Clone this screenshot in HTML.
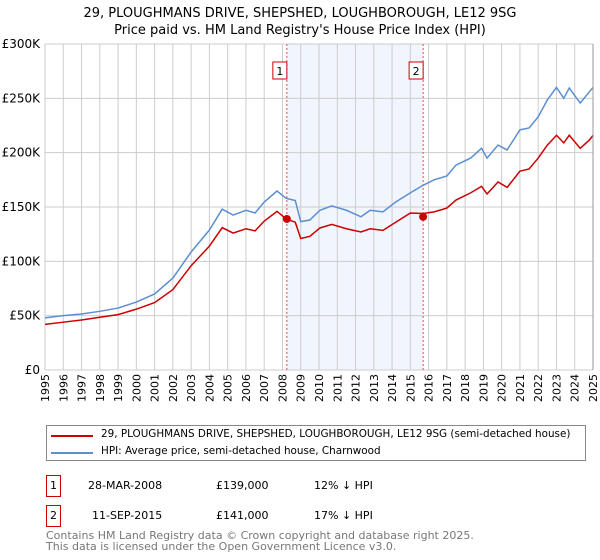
<!DOCTYPE html>
<html><head><meta charset="utf-8"><style>
body{margin:0;background:#fff;font-family:"DejaVu Sans","Liberation Sans",sans-serif;}
#wrap{position:relative;width:600px;height:560px;overflow:hidden;}
.t{position:absolute;font-size:12px;color:#000;white-space:nowrap;}
</style></head><body>
<div id="wrap">
<svg id="chart" width="600" height="420" style="position:absolute;left:0;top:0">
<text x="300" y="17" text-anchor="middle" font-size="13">29, PLOUGHMANS DRIVE, SHEPSHED, LOUGHBOROUGH, LE12 9SG</text>
<text x="300" y="34" text-anchor="middle" font-size="13">Price paid vs. HM Land Registry's House Price Index (HPI)</text>
<g id="grid"></g><g id="marks"></g>
</svg>
<div style="position:absolute;left:46px;top:425px;width:540px;height:36px;border:1px solid #888;box-sizing:border-box;">
<div style="position:absolute;left:4px;top:9px;width:42px;height:2px;background:#cc0000"></div>
<div class="t" style="left:54px;top:2px;font-size:10.4px">29, PLOUGHMANS DRIVE, SHEPSHED, LOUGHBOROUGH, LE12 9SG (semi-detached house)</div>
<div style="position:absolute;left:4px;top:26px;width:42px;height:2px;background:#5b8fd1"></div>
<div class="t" style="left:54px;top:19px;font-size:10.4px">HPI: Average price, semi-detached house, Charnwood</div>
</div>
<div>
<div class="t" style="left:46px;top:475px;width:13px;height:20px;border:1px solid #c00;text-align:center;line-height:20px;font-size:11px">1</div>
<div class="t" style="left:88px;top:479px;font-size:11px">28-MAR-2008</div>
<div class="t" style="left:216px;top:479px;font-size:11px">£139,000</div>
<div class="t" style="left:314px;top:479px;font-size:11px">12% ↓ HPI</div>
</div>
<div>
<div class="t" style="left:46px;top:505px;width:13px;height:20px;border:1px solid #c00;text-align:center;line-height:20px;font-size:11px">2</div>
<div class="t" style="left:92px;top:509px;font-size:11px">11-SEP-2015</div>
<div class="t" style="left:216px;top:509px;font-size:11px">£141,000</div>
<div class="t" style="left:314px;top:509px;font-size:11px">17% ↓ HPI</div>
</div>
<div class="t" style="left:46px;top:530px;font-size:11px;color:#777;line-height:11px">Contains HM Land Registry data © Crown copyright and database right 2025.<br>This data is licensed under the Open Government Licence v3.0.</div>
</div>
<script>
const years=[1995,1996,1997,1998,1999,2000,2001,2002,2003,2004,2005,2006,2007,2008,2009,2010,2011,2012,2013,2014,2015,2016,2017,2018,2019,2020,2021,2022,2023,2024,2025];
const yTicks=[0,50,100,150,200,250,300];
const hpiT=[1995,1996,1997,1998,1999,2000,2001,2002,2003,2004,2004.7,2005.3,2006,2006.5,2007,2007.7,2008.2,2008.7,2009.0,2009.5,2010.05,2010.7,2011.5,2012.3,2012.8,2013.5,2014.2,2015,2015.7,2016.3,2017,2017.5,2018.3,2018.9,2019.2,2019.8,2020.3,2021,2021.5,2022,2022.5,2023,2023.4,2023.7,2024.3,2024.8,2025];
const hpiV=[48,50,51.5,54,57,62.5,70,84.6,108.6,128.8,148,142.6,147,144.5,154.6,164.7,158,156,136.5,138,147,151,147,141,147,145.5,154.6,163,170,175,178.5,188.6,195,204,195,207,202.5,221,222.7,233,248.5,260,250,259.5,245.7,256,260];
const priceV=[42,44,46,48.5,51,56,62,74,96,114,131,126,130,128,137,146,139,136,121,123,130.7,134,130,127,130,128.5,136,144.5,144,145.5,149,156.4,163,169,162,173,168,183,185,195,207,216,209,216,204,211.6,216];
const saleT=[2008.24,2015.7];
const saleV=[139,141];
const saleLabels=["1","2"];
const X=t=>45+(t-1995)*(593-45)/30, Y=v=>370-v*326/300;
const NS="http://www.w3.org/2000/svg";
const grid=document.getElementById('grid'), marks=document.getElementById('marks');
function mk(p,tag,a){const e=document.createElementNS(NS,tag);for(const k in a)e.setAttribute(k,a[k]);p.appendChild(e);return e;}
const shade=mk(grid,'rect',{x:X(saleT[0]),y:44,width:X(saleT[1])-X(saleT[0]),height:326,fill:'#eef3fd',opacity:0.8});


years.forEach(y=>{const l=mk(grid,'line',{x1:X(y),x2:X(y),y1:44,y2:370,stroke:'#ccc','stroke-width':1});


const t=mk(grid,'text',{x:0,y:0,'font-size':11,'text-anchor':'end',transform:`translate(${X(y)+4},374) rotate(-90)`});t.textContent=y;

});
yTicks.forEach(v=>{const l=mk(grid,'line',{x1:45,x2:593,y1:Y(v),y2:Y(v),stroke:'#ccc','stroke-width':1});


const t=mk(grid,'text',{x:40,y:Y(v)+4,'font-size':12,'text-anchor':'end'});t.textContent=v===0?'£0':'£'+v+'K';

});
saleT.forEach((t,i)=>{const l=mk(marks,'line',{x1:X(t),x2:X(t),y1:44,y2:370,stroke:'#e05050','stroke-dasharray':'2,2','stroke-width':1});


const r=mk(marks,'rect',{x:X(t)-14,y:62,width:14,height:17,fill:'#fff',stroke:'#c00'});


const tx=mk(marks,'text',{x:X(t)-7,y:75,'font-size':11,'text-anchor':'middle'});tx.textContent=saleLabels[i];

});
const hp=mk(marks,'polyline',{points:hpiT.map((t,i)=>X(t)+','+Y(hpiV[i])).join(' '),fill:'none',stroke:'#5b8fd1','stroke-width':1.5});


const pp=mk(marks,'polyline',{points:hpiT.map((t,i)=>X(t)+','+Y(priceV[i])).join(' '),fill:'none',stroke:'#cc0000','stroke-width':1.5});


saleT.forEach((t,i)=>{const c=mk(marks,'circle',{cx:X(t),cy:Y(saleV[i]),r:4,fill:'#cc0000'});

});
const ax=mk(marks,'line',{x1:593,x2:593,y1:44,y2:370,stroke:'#999'});


</script>
</body></html>
